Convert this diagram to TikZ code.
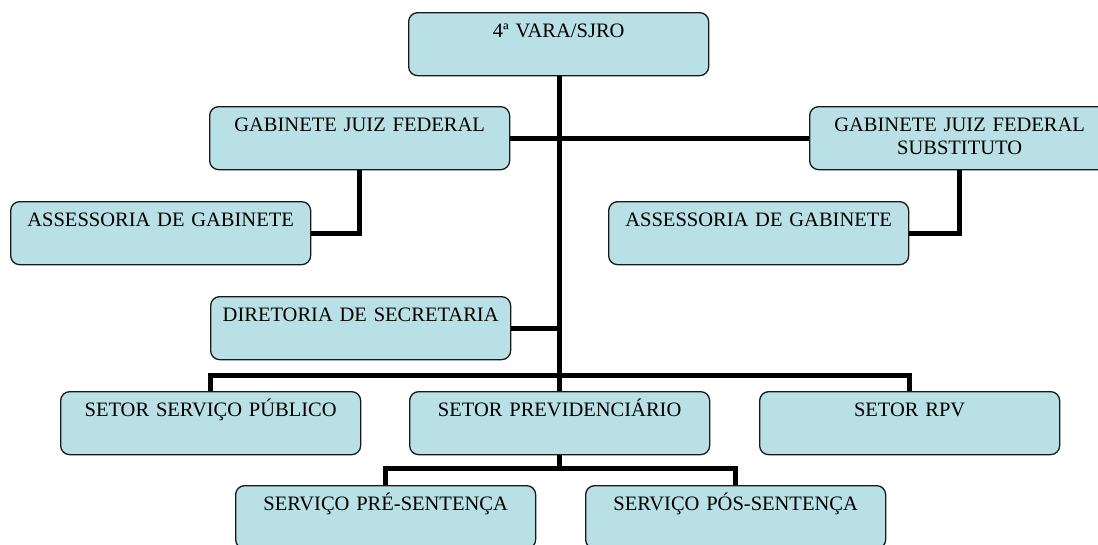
\documentclass[tikz,border=0pt]{standalone}
\usepackage{fontspec}
\setmainfont{Liberation Serif}
\definecolor{boxfill}{RGB}{185,224,228}
\definecolor{boxline}{RGB}{25,25,25}
\tikzset{
  orgbox/.style={draw=boxline, line width=1.3pt, fill=boxfill, rounded corners=9pt,
    inner sep=0pt, text width=300pt, align=center, text height=25pt, text depth=38pt,
    anchor=north west, font=\fontsize{20.5}{23}\selectfont},
  conn/.style={line width=5pt, draw=black}
}
\begin{document}
\begin{tikzpicture}[x=1pt,y=1pt]
\clip (0,0) rectangle (1098,-544);
\node[orgbox] (top)  at (408,-12)  {4ª VARA/SJRO};
\node[orgbox] (gjf)  at (209,-106) {GABINETE JUIZ FEDERAL};
\node[orgbox] (gjfs) at (809,-106) {GABINETE JUIZ FEDERAL\\SUBSTITUTO};
\node[orgbox] (assl) at (10,-201)  {ASSESSORIA DE GABINETE};
\node[orgbox] (assr) at (608,-201) {ASSESSORIA DE GABINETE};
\node[orgbox] (dir)  at (210,-296) {DIRETORIA DE SECRETARIA};
\node[orgbox] (ssp)  at (60,-391)  {SETOR SERVIÇO PÚBLICO};
\node[orgbox] (sprev) at (409,-391) {SETOR PREVIDENCIÁRIO};
\node[orgbox] (rpv)  at (759,-391) {SETOR RPV};
\node[orgbox] (pre)  at (235,-485) {SERVIÇO PRÉ-SENTENÇA};
\node[orgbox] (pos)  at (585,-485) {SERVIÇO PÓS-SENTENÇA};

\coordinate (trunk) at ([xshift=1pt]top.south);
\draw[conn] (trunk) -- (trunk |- sprev.north);
\draw[conn] (gjf.east) -- (gjfs.west);
\draw[conn] (gjf.south) |- (assl.east);
\draw[conn] (gjfs.south) |- (assr.east);
\draw[conn] (dir.east) -- (dir.east -| trunk);
\draw[conn] (ssp.north) -- ++(0,16) -| (rpv.north);
\draw[conn] (trunk |- sprev.south) -- ++(0,-14);
\draw[conn] (pre.north) -- ++(0,17) -| (pos.north);
\end{tikzpicture}
\end{document}
